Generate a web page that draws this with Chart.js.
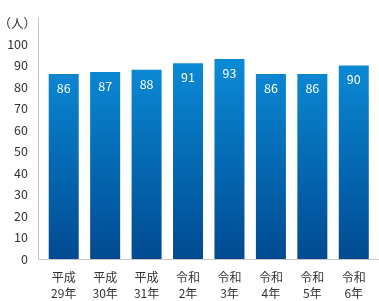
<!DOCTYPE html>
<html>
<head>
<meta charset="utf-8">
<script src="https://cdn.jsdelivr.net/npm/chart.js@4"></script>
<style>
  html, body { margin: 0; padding: 0; background: #fff; }
  #wrap { width: 379px; height: 301px; position: relative; }
</style>
</head>
<body>
<div id="wrap"><canvas id="chart"></canvas></div>
<script>
// Data
const eraLabels = ['平成', '平成', '平成', '令和', '令和', '令和', '令和', '令和'];
const yearLabels = ['29年', '30年', '31年', '2年', '3年', '4年', '5年', '6年'];
const people = [86, 87, 88, 91, 93, 86, 86, 90];
const yTicks = [0, 10, 20, 30, 40, 50, 60, 70, 80, 90, 100, 110];
const unitLabel = '（人）';

const FONT = '"Noto Sans CJK JP", "Noto Sans", sans-serif';
const TEXT = '#333333';

// gradient fill for bars (light blue on top, navy at the bottom)
function barGradient(ctx) {
    const area = ctx.chart.chartArea;
    if (!area) return '#0a6ab4';
    const g = ctx.chart.ctx.createLinearGradient(0, area.top + 30, 0, area.bottom);
    g.addColorStop(0, '#0b8dd9');
    g.addColorStop(1, '#004a91');
    return g;
}

// axis lines stick out a few px past the plot area, like the original
const axisLines = {
    id: 'axisLines',
    afterDraw(chart) {
        const { ctx, chartArea: a } = chart;
        ctx.save();
        ctx.strokeStyle = '#c8c8c8';
        ctx.lineWidth = 1;
        ctx.beginPath();
        ctx.moveTo(Math.round(a.left - 5) + 0.5, a.top - 5);
        ctx.lineTo(Math.round(a.left - 5) + 0.5, Math.round(a.bottom) + 0.5);
        ctx.lineTo(a.right + 5, Math.round(a.bottom) + 0.5);
        ctx.stroke();
        ctx.restore();
    }
};

// unit label sits where the 110 tick would be
const unitText = {
    id: 'unitText',
    afterDraw(chart) {
        const { ctx } = chart;
        const y = chart.scales.y;
        ctx.save();
        ctx.fillStyle = TEXT;
        ctx.font = '12.5px ' + FONT;
        ctx.textAlign = 'right';
        ctx.textBaseline = 'middle';
        ctx.fillText(unitLabel, y.right - 15 + 8, y.getPixelForValue(110) + 1);
        ctx.restore();
    }
};

// value labels inside the top of each bar
const valueLabels = {
    id: 'valueLabels',
    afterDatasetsDraw(chart) {
        const { ctx } = chart;
        const meta = chart.getDatasetMeta(0);
        ctx.save();
        ctx.fillStyle = '#ffffff';
        ctx.font = '12.5px ' + FONT;
        ctx.textAlign = 'center';
        ctx.textBaseline = 'middle';
        meta.data.forEach((bar, i) => {
            ctx.fillText(String(people[i]), bar.x, bar.y + 14);
        });
        ctx.restore();
    }
};

new Chart(document.getElementById('chart'), {
    type: 'bar',
    data: {
        labels: eraLabels.map((e, i) => [e, yearLabels[i]]),
        datasets: [{
            data: people,
            backgroundColor: barGradient,
            borderWidth: 0,
            barPercentage: 0.724,
            categoryPercentage: 1
        }]
    },
    options: {
        responsive: true,
        maintainAspectRatio: false,
        animation: false,
        events: [],
        layout: { padding: { left: 0, right: 4.5, top: 8, bottom: 0 } },
        plugins: { legend: { display: false }, tooltip: { enabled: false } },
        scales: {
            x: {
                afterFit: s => { s.height = 42; },
                grid: { display: false, drawTicks: false },
                border: { display: false },
                ticks: {
                    color: TEXT,
                    font: { family: FONT, size: 12, lineHeight: 1.35 },
                    padding: 10,
                    maxRotation: 0,
                    autoSkip: false
                }
            },
            y: {
                min: 0,
                max: 110,
                afterBuildTicks: s => { s.ticks = yTicks.map(v => ({ value: v })); },
                afterFit: s => { s.width = 43; },
                grid: { display: false, drawTicks: false },
                border: { display: false },
                ticks: {
                    color: TEXT,
                    font: { family: FONT, size: 12.5 },
                    padding: 15,
                    callback: v => v === 110 ? '' : v
                }
            }
        }
    },
    plugins: [axisLines, unitText, valueLabels]
});
</script>
</body>
</html>
